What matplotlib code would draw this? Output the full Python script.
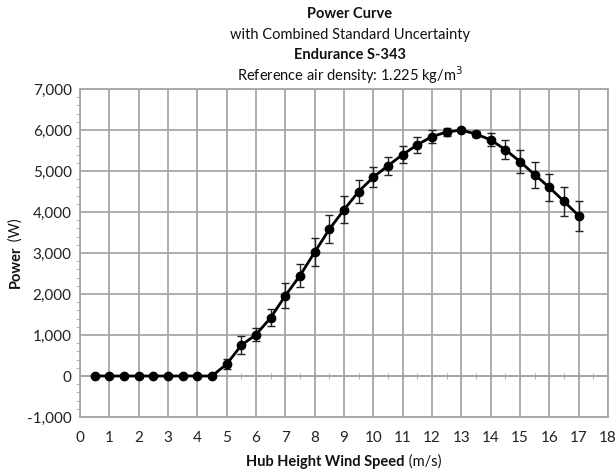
import matplotlib
matplotlib.use("Agg")
import matplotlib.pyplot as plt
from matplotlib.ticker import MultipleLocator, FuncFormatter

plt.rcParams['font.family'] = ['Lato', 'DejaVu Sans']

wind_speed = [0.5, 1.0, 1.5, 2.0, 2.5, 3.0, 3.5, 4.0, 4.5, 5.0, 5.5, 6.0, 6.5, 7.0,
              7.5, 8.0, 8.5, 9.0, 9.5, 10.0, 10.5, 11.0, 11.5, 12.0, 12.5, 13.0,
              13.5, 14.0, 14.5, 15.0, 15.5, 16.0, 16.5, 17.0]
power = [0, 0, 0, 0, 0, 0, 0, 0, 0, 290, 750, 1010, 1420, 1960,
         2450, 3020, 3580, 4055, 4500, 4850, 5130, 5400, 5640, 5840, 5950, 6000,
         5900, 5760, 5520, 5230, 4910, 4600, 4260, 3910]
uncertainty = [0, 0, 0, 0, 0, 0, 0, 0, 0, 130, 220, 150, 210, 300,
               290, 345, 335, 330, 290, 250, 220, 200, 200, 150, 90, 40,
               75, 155, 235, 280, 320, 320, 350, 370]

title_lines = ["Power Curve", "with Combined Standard Uncertainty",
               "Endurance S-343", "Reference air density: 1.225 kg/m$^3$"]

W, H = 616, 476
fig = plt.figure(figsize=(W / 100, H / 100), dpi=100)
ax = fig.add_axes([80 / W, 1 - 417 / H, 528 / W, 328 / H])

grid_col = '#a6a6a6'
ax.errorbar(wind_speed, power, yerr=uncertainty, color='black', lw=2,
            marker='o', ms=6, ecolor='#222222', elinewidth=1, capsize=3,
            capthick=1, zorder=3)

ax.set_xlim(0, 18)
ax.set_ylim(-1000, 7000)
ax.xaxis.set_major_locator(MultipleLocator(1))
ax.yaxis.set_major_locator(MultipleLocator(1000))
ax.yaxis.set_minor_locator(MultipleLocator(200))
ax.yaxis.set_major_formatter(FuncFormatter(lambda v, p: f"{int(v):,}"))
ax.grid(True, which='major', color=grid_col, lw=1.3)
ax.set_axisbelow(True)
for s in ax.spines.values():
    s.set_color(grid_col)
    s.set_linewidth(1.3)
ax.tick_params(axis='x', which='both', length=0, labelsize=11, pad=10, colors='#222222')
ax.tick_params(axis='y', which='major', length=0, labelsize=11, pad=6, colors='#222222')
ax.tick_params(axis='y', which='minor', length=3, color=grid_col, direction='out')

# x axis line crossing at y = 0 with minor tick marks
sec = ax.secondary_xaxis(1000 / 8000)
sec.spines['bottom'].set_color(grid_col)
sec.spines['bottom'].set_linewidth(1.3)
sec.xaxis.set_major_locator(MultipleLocator(1))
sec.xaxis.set_minor_locator(MultipleLocator(0.5))
sec.tick_params(which='both', labelbottom=False, direction='inout', length=4, color=grid_col)

# titles
cx = 350 / W
ys = [14, 35, 55, 75]
for i, (t, y) in enumerate(zip(title_lines, ys)):
    fig.text(cx, 1 - y / H, t, ha='center', va='center', fontsize=10.5,
             fontweight='bold' if i in (0, 2) else 'normal', color='#111111')

# axis labels with mixed weights
fig.canvas.draw()
r = fig.canvas.get_renderer()
xb = fig.text(0, 1 - 462 / H, "Hub Height Wind Speed", fontsize=10.5,
              fontweight='bold', va='center', ha='left', color='#111111')
xn = fig.text(0, 1 - 462 / H, " (m/s)", fontsize=10.5, va='center', ha='left', color='#111111')
wb = xb.get_window_extent(r).width
wn = xn.get_window_extent(r).width
start = (344 - (wb + wn) / 2)
xb.set_x(start / W)
xn.set_x((start + wb) / W)

yb = fig.text(16 / W, 0, "Power", fontsize=10.5, fontweight='bold', rotation=90,
              va='bottom', ha='center', color='#111111')
yn = fig.text(16 / W, 0, " (W)", fontsize=10.5, rotation=90, va='bottom', ha='center', color='#111111')
hb = yb.get_window_extent(r).height
hn = yn.get_window_extent(r).height
ycen = H - 253
ystart = ycen - (hb + hn) / 2
yb.set_y(ystart / H)
yn.set_y((ystart + hb) / H)

fig.savefig("out.png", dpi=100)
